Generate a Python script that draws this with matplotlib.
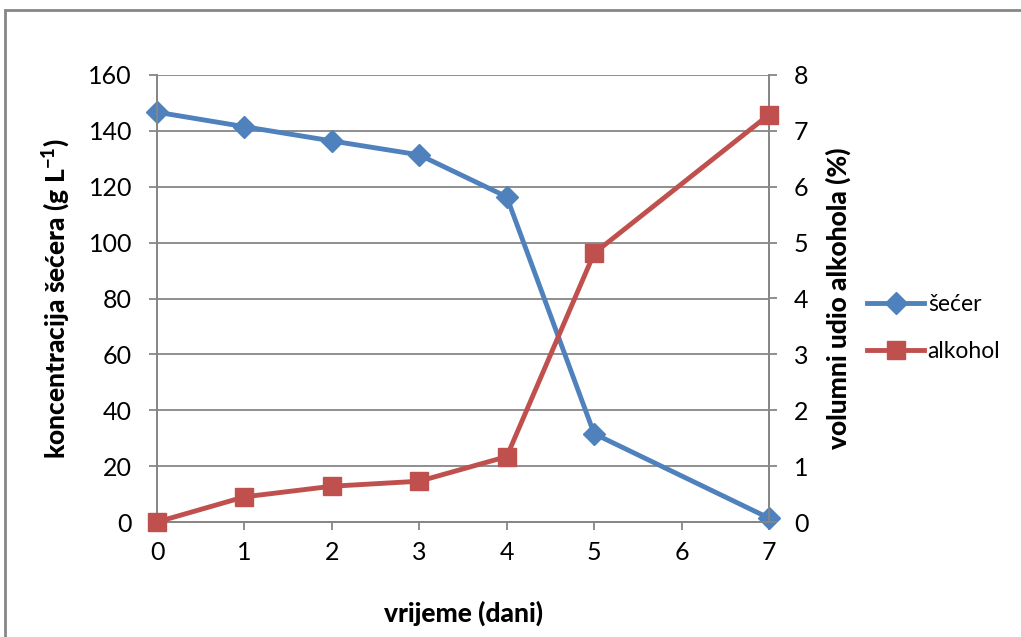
import numpy as np
import matplotlib.pyplot as plt
from matplotlib.patches import Rectangle

plt.rcParams['font.family'] = ['Lato', 'DejaVu Sans']
plt.rcParams['mathtext.fontset'] = 'custom'
plt.rcParams['mathtext.rm'] = 'Lato'
plt.rcParams['mathtext.bf'] = 'Lato:black'

# data
dani = [0, 1, 2, 3, 4, 5, 7]
secer = [146.7, 141.5, 136.4, 131.4, 116.4, 31.6, 1.4]
alkohol = [0.0, 0.45, 0.64, 0.73, 1.17, 4.81, 7.29]
x_ticks = [0, 1, 2, 3, 4, 5, 6, 7]

blue = '#4F81BD'
red = '#C0504D'
grid_c = '#868686'

fig = plt.figure(figsize=(10.21, 6.37), dpi=100)
ax = fig.add_axes([157/1021, 115/637, 612/1021, 447/637])
ax2 = ax.twinx()

l1, = ax.plot(dani, secer, '-D', color=blue, lw=3.5, ms=11, label='šećer', zorder=3)
l2, = ax2.plot(dani, alkohol, '-s', color=red, lw=3.5, ms=13, label='alkohol', zorder=3)

ax.set_xlim(0, 7)
ax.set_ylim(0, 160)
ax2.set_ylim(0, 8)
ax.set_xticks(x_ticks)
ax.set_yticks(np.arange(0, 161, 20))
ax2.set_yticks(np.arange(0, 9, 1))
ax.grid(axis='y', color=grid_c, lw=1.3)
ax.set_axisbelow(True)

for a in (ax, ax2):
    for s in a.spines.values():
        s.set_color(grid_c)
        s.set_linewidth(1.3)
    a.spines['top'].set_visible(False)
    a.tick_params(colors=grid_c, labelcolor='black', labelsize=18, length=6, width=1.3)
ax.tick_params(axis='x', pad=8)
ax.tick_params(axis='y', pad=12)
ax2.tick_params(axis='y', pad=12)
l1.set_clip_on(False)
l2.set_clip_on(False)

lab = dict(fontsize=19, fontweight='black')
ax.set_ylabel(r'koncentracija šećera (g L$^{\mathbf{-1}}$)', labelpad=12, **lab)
ax2.set_ylabel('volumni udio alkohola (%)', labelpad=12, **lab)
ax.set_xlabel('vrijeme (dani)', labelpad=26, **lab)

fig.legend(handles=[l1, l2], loc='center left', bbox_to_anchor=(867/1021, 1 - 328/637),
           frameon=False, fontsize=16.5, borderpad=0, borderaxespad=0,
           handlelength=2.5, handletextpad=0.15, labelspacing=1.15)

fig.patches.append(Rectangle((5/1021, -0.1), 1.2, 0.1 + 1 - 10/637, transform=fig.transFigure,
                             fill=False, edgecolor=grid_c, lw=2))

fig.savefig('out.png', dpi=100)
